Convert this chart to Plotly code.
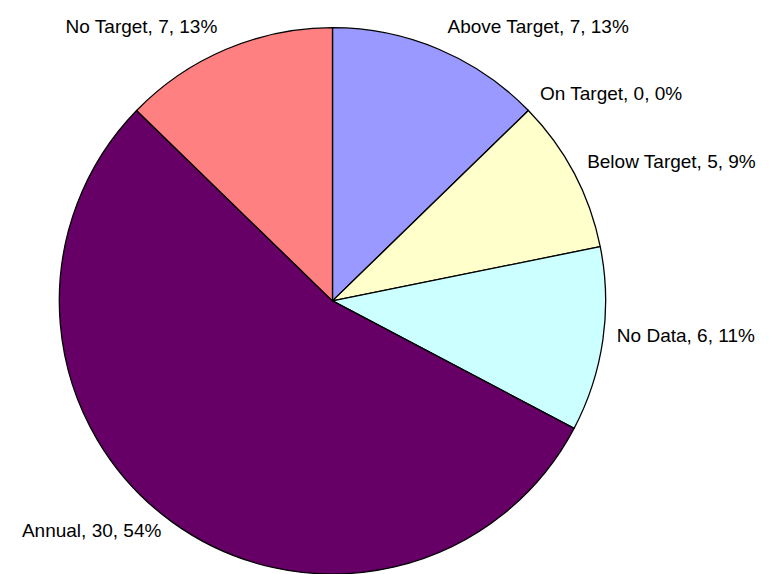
import plotly.graph_objects as go

categories = ["Above Target", "On Target", "Below Target", "No Data", "Annual", "No Target"]
values = [7, 0, 5, 6, 30, 7]
percent_labels = ["13%", "0%", "9%", "11%", "54%", "13%"]
colors = ["#9999FF", "#993366", "#FFFFCC", "#CCFFFF", "#660066", "#FF8080"]

# visible pie (slices only)
fig = go.Figure(go.Pie(
    labels=categories,
    values=values,
    textinfo="none",
    marker=dict(colors=colors, line=dict(color="#000000", width=1.3)),
    sort=False,
    direction="clockwise",
    rotation=0,
    showlegend=False,
    domain=dict(x=[0.0601, 0.7784], y=[0.0052, 0.9739]),
    hoverinfo="label+value+percent",
))

# transparent, slightly larger pie carrying the outside data labels
fig.add_trace(go.Pie(
    labels=categories,
    values=values,
    customdata=percent_labels,
    texttemplate="%{label}, %{value}, %{customdata}",
    textposition="outside",
    textfont=dict(family="Liberation Sans, Arial", size=19, color="#000000"),
    marker=dict(colors=["rgba(0,0,0,0)"] * len(values), line=dict(width=0)),
    sort=False,
    direction="clockwise",
    rotation=0,
    showlegend=False,
    domain=dict(x=[0.0484, 0.79], y=[0.0, 1.0]),
    hoverinfo="skip",
))

fig.update_layout(
    width=774, height=574,
    margin=dict(l=0, r=0, t=0, b=0),
    paper_bgcolor="#FFFFFF",
    plot_bgcolor="#FFFFFF",
)

fig.write_html("out.html")
